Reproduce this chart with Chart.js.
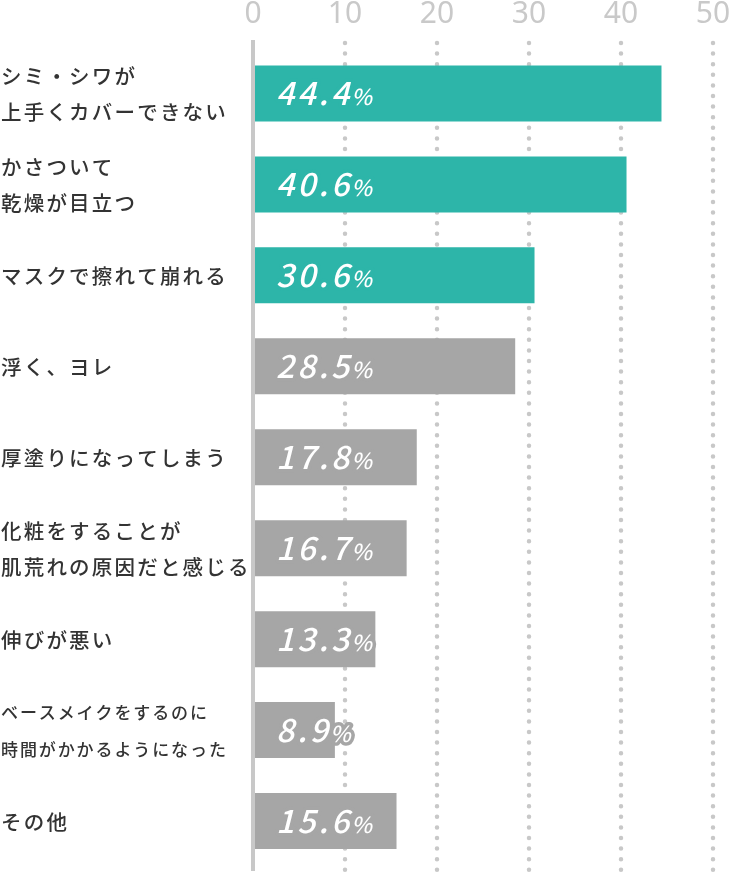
<!DOCTYPE html>
<html><head><meta charset="utf-8">
<script src="https://cdn.jsdelivr.net/npm/chart.js@4.4.1/dist/chart.umd.min.js"></script>
<style>html,body{margin:0;padding:0;background:#fff}canvas{display:block}</style>
</head><body>
<canvas id="c" width="750" height="879"></canvas>
<script>
const categories = [
  ["シミ・シワが", "上手くカバーできない"],
  ["かさついて", "乾燥が目立つ"],
  ["マスクで擦れて崩れる"],
  ["浮く、ヨレ"],
  ["厚塗りになってしまう"],
  ["化粧をすることが", "肌荒れの原因だと感じる"],
  ["伸びが悪い"],
  ["ベースメイクをするのに", "時間がかかるようになった"],
  ["その他"]
];
const values = [44.4, 40.6, 30.6, 28.5, 17.8, 16.7, 13.3, 8.9, 15.6];
const highlighted = [true, true, true, false, false, false, false, false, false];
const axisMin = 0, axisMax = 50, axisStep = 10;

const TEAL = '#2db5a9', GRAY = '#a6a6a6', LINE = '#c8c8c8';
const barColors = highlighted.map(h => h ? TEAL : GRAY);
const JP = '"Noto Sans CJK JP", "Noto Sans", sans-serif';

const decor = {
  id: 'decor',
  beforeDatasetsDraw(chart) {
    const ctx = chart.ctx, xs = chart.scales.x;
    ctx.save();
    ctx.strokeStyle = LINE; ctx.lineWidth = 4.5; ctx.lineCap = 'round';
    ctx.setLineDash([0, 10.6]);
    xs.ticks.forEach(t => {
      if (t.value === axisMin) return;
      const x = xs.getPixelForValue(t.value);
      ctx.beginPath(); ctx.moveTo(x, 43); ctx.lineTo(x, 872); ctx.stroke();
    });
    ctx.restore();
  },
  afterDatasetsDraw(chart) {
    const ctx = chart.ctx, xs = chart.scales.x, ys = chart.scales.y;
    const x0 = xs.getPixelForValue(0);
    ctx.save();
    ctx.fillStyle = LINE;
    ctx.fillRect(x0 - 2, 40, 4, 831);
    // category labels
    ctx.fillStyle = '#333';
    ctx.textBaseline = 'middle';
    ctx.textAlign = 'left';
    categories.forEach((lines, i) => {
      const yc = ys.getPixelForValue(i);
      const small = lines.some(l => l.length > 11);
      ctx.font = (small ? '500 17px ' : '500 20.5px ') + JP;
      ctx.letterSpacing = small ? '1.9px' : '2.2px';
      const lh = small ? 37 : 36;
      lines.forEach((l, k) => {
        const y = yc + (k - (lines.length - 1) / 2) * lh;
        ctx.fillText(l, 1, y + 1);
      });
    });
    // value labels
    const meta = chart.getDatasetMeta(0);
    const numFont = 'italic 500 32px ' + JP, pctFont = 'italic 500 22px ' + JP;
    meta.data.forEach((bar, i) => {
      const yc = bar.y;
      const num = values[i].toFixed(1);
      const x = x0 + 23;
      const by = yc + 11.5;
      ctx.textBaseline = 'alphabetic';
      ctx.lineJoin = 'round';
      ctx.font = numFont; ctx.letterSpacing = '3px';
      const w = ctx.measureText(num).width - 1;
      ctx.strokeStyle = barColors[i]; ctx.lineWidth = 7;
      ctx.strokeText(num, x, by);
      ctx.font = pctFont; ctx.letterSpacing = '0px';
      ctx.strokeText('%', x + w, by);
      ctx.fillStyle = '#fff';
      ctx.font = numFont; ctx.letterSpacing = '3px';
      ctx.fillText(num, x, by);
      ctx.font = pctFont; ctx.letterSpacing = '0px';
      ctx.fillText('%', x + w, by);
    });
    ctx.restore();
  }
};

new Chart(document.getElementById('c'), {
  type: 'bar',
  data: {
    labels: categories,
    datasets: [{
      data: values,
      backgroundColor: barColors,
      borderWidth: 0,
      barPercentage: 0.616,
      categoryPercentage: 1
    }]
  },
  options: {
    indexAxis: 'y',
    responsive: false,
    devicePixelRatio: 1,
    animation: false,
    layout: { padding: { left: 253, right: 37, top: -11, bottom: 12.5 } },
    plugins: { legend: { display: false }, tooltip: { enabled: false } },
    scales: {
      x: {
        position: 'top',
        min: axisMin, max: axisMax,
        ticks: {
          stepSize: axisStep,
          color: '#c9c9c9',
          font: { family: '"Noto Sans", sans-serif', size: 30, lineHeight: 1 },
          padding: 10.5
        },
        grid: { display: false },
        border: { display: false }
      },
      y: { display: false }
    }
  },
  plugins: [decor]
});
</script>
</body></html>
